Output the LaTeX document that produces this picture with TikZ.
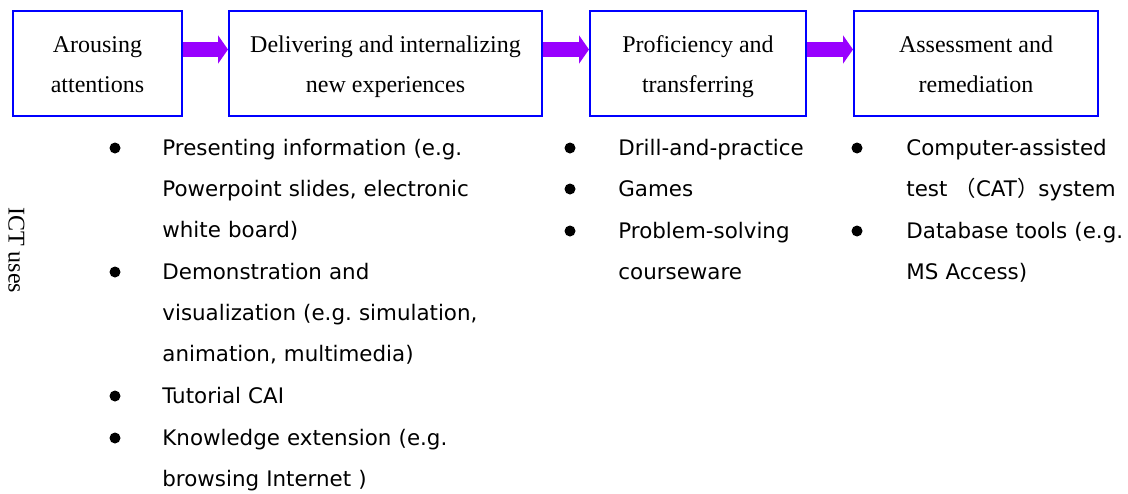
\documentclass[tikz,border=0pt]{standalone}
\usepackage{fontspec}
\setmainfont{Liberation Serif}
\setsansfont{DejaVu Sans}
\newfontfamily\cjk{Noto Sans CJK SC}
\usetikzlibrary{arrows.meta}
\frenchspacing
\definecolor{boxblue}{RGB}{0,0,255}
\definecolor{flowviolet}{RGB}{153,0,255}
\newcommand\twolines[2]{\rule{0pt}{12pt}#1\\#2\rule[-3.5pt]{0pt}{0pt}}
\tikzset{
	stage/.style={draw=boxblue, line width=1pt, minimum height=52.5pt, inner sep=0pt, align=center, font=\fontsize{12}{20}\selectfont},
	flow/.style={draw=flowviolet, line width=7.5pt, -{Triangle[length=5pt,width=14pt]}},
	item/.style={anchor=base west, inner sep=0pt, text width=200pt, align=left, font=\sffamily\fontsize{10.7}{20.7}\selectfont},
}

\begin{document}
\begin{tikzpicture}[x=0.5pt,y=-0.5pt]
				\useasboundingbox (0,0) rectangle (1128,493);
				
				% stages
				\node[stage, minimum width=84.5pt] (arouse) at (97.5,63.5) {\twolines{Arousing}{attentions}};
				\node[stage, minimum width=156.5pt] (deliver) at (385.5,63.5) {\twolines{Delivering and internalizing}{new experiences}};
				\node[stage, minimum width=108pt] (transfer) at (698,63.5) {\twolines{Proficiency and}{transferring}};
				\node[stage, minimum width=122pt] (assess) at (976,63.5) {\twolines{Assessment and}{remediation}};
				
				\draw[flow] ([yshift=7pt]arouse.east) -- ([yshift=7pt]deliver.west);
				\draw[flow] ([yshift=7pt]deliver.east) -- ([yshift=7pt]transfer.west);
				\draw[flow] ([yshift=7pt]transfer.east) -- ([yshift=7pt]assess.west);
				
				\node[rotate=-90, font=\fontsize{12}{14}\selectfont] (ictuses) at (16.5,250) {ICT uses};
				
				% first column
				\fill (115,148) circle (2.75pt);
				\node[item] (present) at (162,155) {Presenting information (e.g.\\Powerpoint slides, electronic\\white board)};
				\fill (115,272) circle (2.75pt);
				\node[item] (demo) at (162,279) {Demonstration and\\visualization (e.g. simulation,\\animation, multimedia)};
				\fill (115,396) circle (2.75pt);
				\node[item] (tutorial) at (162,403) {Tutorial CAI};
				\fill (115,438) circle (2.75pt);
				\node[item] (knowledge) at (162,445) {Knowledge extension (e.g.\\browsing Internet )};
				
				% second column
				\fill (570,148) circle (2.75pt);
				\node[item] (drill) at (618,155) {Drill-and-practice};
				\fill (570,189) circle (2.75pt);
				\node[item] (games) at (618,196) {Games};
				\fill (570,231) circle (2.75pt);
				\node[item] (problem) at (618,238) {Problem-solving\\courseware};
				
				% third column
				\fill (857,148) circle (2.75pt);
				\node[item] (cat) at (906,155) {Computer-assisted\\test {\cjk （}CAT{\cjk ）}system};
				\fill (857,231) circle (2.75pt);
				\node[item] (database) at (906,238) {Database tools (e.g.\\MS Access)};
			\end{tikzpicture}
\end{document}
